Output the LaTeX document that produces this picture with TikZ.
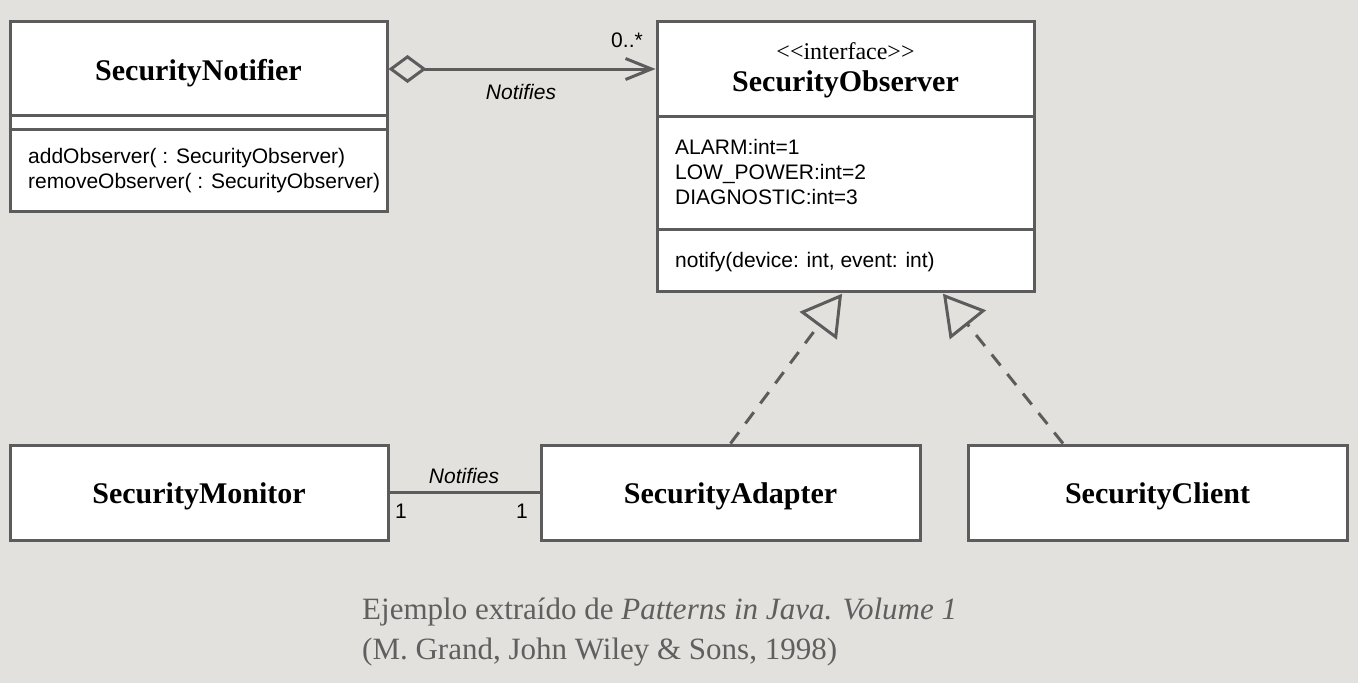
\documentclass[tikz,border=0pt]{standalone}
\usepackage{fontspec}
\setmainfont{Liberation Serif}
\setsansfont{Liberation Sans}
\usetikzlibrary{arrows.meta}
\definecolor{bg}{RGB}{226,225,221}
\definecolor{ln}{RGB}{92,92,92}
\definecolor{captxt}{RGB}{95,95,95}
\begin{document}
\begin{tikzpicture}[x=1pt,y=-1pt,
  umlbox/.style={draw=ln,line width=3pt,fill=white,inner sep=0pt},
  ttl/.style={font=\fontsize{30}{36}\selectfont\bfseries,inner sep=0pt,anchor=base},
  stereo/.style={font=\fontsize{24}{28}\selectfont,inner sep=0pt,anchor=base},
  body/.style={font=\sffamily\fontsize{21}{25}\selectfont,inner sep=0pt,anchor=base west},
  lbl/.style={font=\sffamily\itshape\fontsize{21}{25}\selectfont,inner sep=0pt,anchor=base},
  mult/.style={font=\sffamily\fontsize{21}{25}\selectfont,inner sep=0pt,anchor=base},
  captext/.style={font=\fontsize{31}{40}\selectfont,text=captxt,inner sep=0pt,anchor=base west},
  conn/.style={draw=ln,line width=3pt},
  agg/.style={conn,{Diamond[open,length=38pt,width=28pt]}-{Straight Barb[length=26pt,width=21pt]}},
  realz/.style={conn,dash pattern=on 14pt off 11pt,shorten >=1.5pt,-{Triangle[open,length=40pt,width=46pt]}}
]
\fill[bg] (0,0) rectangle (1358,683);

% SecurityNotifier
\node[umlbox,minimum width=377pt,minimum height=190pt] (notif) at (198.5,116) {};
\draw[conn] (notif.west |- 0,115) -- (notif.east |- 0,115);
\draw[conn] (notif.west |- 0,129) -- (notif.east |- 0,129);
\node[ttl] (ntitle) at (198.5,80) {SecurityNotifier};
\node[body] (nm1) at (28,163) {addObserver( : SecurityObserver)};
\node[body] (nm2) at (28,188) {removeObserver( : SecurityObserver)};

% SecurityObserver
\node[umlbox,minimum width=377pt,minimum height=270pt] (obs) at (845.5,156) {};
\draw[conn] (obs.west |- 0,116) -- (obs.east |- 0,116);
\draw[conn] (obs.west |- 0,229) -- (obs.east |- 0,229);
\node[stereo] (ster) at (845.5,59) {<\kern0pt<interface>\kern0pt>};
\node[ttl] (otitle) at (845.5,91) {SecurityObserver};
\node[body] (oa1) at (675,154) {ALARM:int=1};
\node[body] (oa2) at (675,179) {LOW\_POWER:int=2};
\node[body] (oa3) at (675,204) {DIAGNOSTIC:int=3};
\node[body] (om1) at (675,267) {notify(device: int, event: int)};

% aggregation
\draw[agg] (notif.east |- 0,69) -- (obs.west |- 0,69);
\node[mult] (m0) at (627,47) {0..*};
\node[lbl] (l1) at (521,99) {Notifies};

% bottom boxes
\node[umlbox,minimum width=378pt,minimum height=95pt] (mon) at (199,492.5) {};
\node[ttl] (montitle) at (199,503) {SecurityMonitor};
\node[umlbox,minimum width=379pt,minimum height=95pt] (adp) at (730.5,492.5) {};
\node[ttl] (adptitle) at (730.5,503) {SecurityAdapter};
\node[umlbox,minimum width=379pt,minimum height=95pt] (cli) at (1157.5,492.5) {};
\node[ttl] (clititle) at (1157.5,503) {SecurityClient};

% association
\draw[conn] (mon.east) -- (adp.west);
\node[lbl] (l2) at (464,483) {Notifies};
\node[mult] (m1) at (401,518) {1};
\node[mult] (m2) at (522,518) {1};

% realizations
\draw[realz] (adp.north) -- ([xshift=-2.5pt]obs.south);
\draw[realz] ([xshift=-94.5pt]cli.north) -- ([xshift=96.5pt]obs.south);

% caption
\node[captext] (c1) at (362,619) {Ejemplo extraído de \textit{Patterns in Java. Volume 1}};
\node[captext] (c2) at (362,659) {(M. Grand, John Wiley \& Sons, 1998)};
\end{tikzpicture}
\end{document}
